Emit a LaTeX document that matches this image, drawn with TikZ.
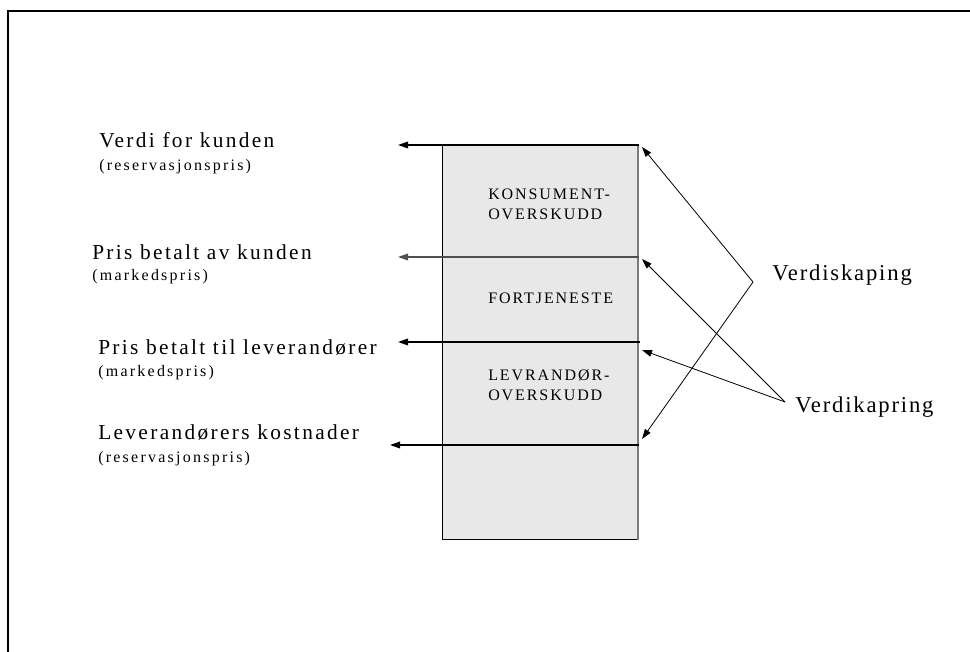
\documentclass[tikz,border=0pt]{standalone}
\usepackage{fontspec}
\setmainfont{Liberation Serif}
\newfontfamily\labfont[LetterSpace=11]{Liberation Serif}
\newfontfamily\subfont[LetterSpace=14]{Liberation Serif}
\newfontfamily\boxfont[LetterSpace=12]{Liberation Serif}
\newfontfamily\bigfont[LetterSpace=8]{Liberation Serif}
\usetikzlibrary{arrows.meta}
\definecolor{boxgray}{HTML}{E8E8E8}
\definecolor{edgegray}{HTML}{7A7A7A}
\definecolor{linegray}{HTML}{505050}
\begin{document}
\begin{tikzpicture}[x=0.75pt,y=-0.75pt,
  lab/.style={anchor=base west,inner sep=0pt,font=\labfont\fontsize{16}{19}\selectfont},
  sub/.style={anchor=base west,inner sep=0pt,font=\subfont\fontsize{12}{14}\selectfont},
  boxlab/.style={anchor=base west,inner sep=0pt,font=\boxfont\fontsize{12}{14}\selectfont},
  biglab/.style={anchor=base west,inner sep=0pt,font=\bigfont\fontsize{17}{20}\selectfont},
  harrow/.style={line width=0.9pt,-{Triangle[length=7.5pt,width=5pt]}},
  darrow/.style={line width=0.6pt,-{Triangle[length=7.5pt,width=5pt]}}]
\useasboundingbox (0,0) rectangle (970,652);
% frame
\draw[line width=1.6pt] (8,652) -- (8,11) -- (970,11);
% box
\node (box) [draw,line width=0.8pt,fill=boxgray,rectangle,inner sep=0pt,anchor=north west,
  minimum width=146.25pt,minimum height=295.5pt] at (442,145) {};
\draw[edgegray,line width=1.3pt] (box.north east) -- (box.south east);
% box labels
\node[boxlab] (k1) at (488,200) {KONSUMENT-};
\node[boxlab] (k2) at (488,220) {OVERSKUDD};
\node[boxlab] (f1) at (488,303) {FORTJENESTE};
\node[boxlab] (v1) at (488,380) {LEVRANDØR-};
\node[boxlab] (v2) at (488,400) {OVERSKUDD};
% horizontal arrow coordinates
\coordinate (r1) at (639,145); \coordinate (l1) at (398,145);
\coordinate (r2) at (639,257); \coordinate (l2) at (398,257);
\coordinate (r3) at (640,342); \coordinate (l3) at (398,342);
\coordinate (r4) at (639,445); \coordinate (l4) at (390,445);
\draw[harrow] (r1) -- (l1);
\draw[harrow,linegray] (r2) -- (l2);
\draw[harrow] (r3) -- (l3);
\draw[harrow] (r4) -- (l4);
% left labels
\node[lab] (t1) at (99,148) {Verdi for kunden};
\node[sub] (s1) at (99,171) {(reservasjonspris)};
\node[lab] (t2) at (92,259) {Pris betalt av kunden};
\node[sub] (s2) at (92,280) {(markedspris)};
\node[lab] (t3) at (98,354) {Pris betalt til leverandører};
\node[sub] (s3) at (98,376) {(markedspris)};
\node[lab] (t4) at (98,439) {Leverandørers kostnader};
\node[sub] (s4) at (98,462) {(reservasjonspris)};
% right labels
\node[biglab] (vs) at (772,281) {Verdiskaping};
\node[biglab] (vk) at (795,412) {Verdikapring};
\coordinate (a1) at (753,282);
\coordinate (a2) at (785,402);
\coordinate (p1) at (642,147);
\coordinate (p4) at (642,439);
\coordinate (p2) at (642,259);
\coordinate (p3) at (642,350);
\draw[darrow] (a1) -- (p1);
\draw[darrow] (a1) -- (p4);
\draw[darrow] (a2) -- (p2);
\draw[darrow] (a2) -- (p3);
\end{tikzpicture}
\end{document}
